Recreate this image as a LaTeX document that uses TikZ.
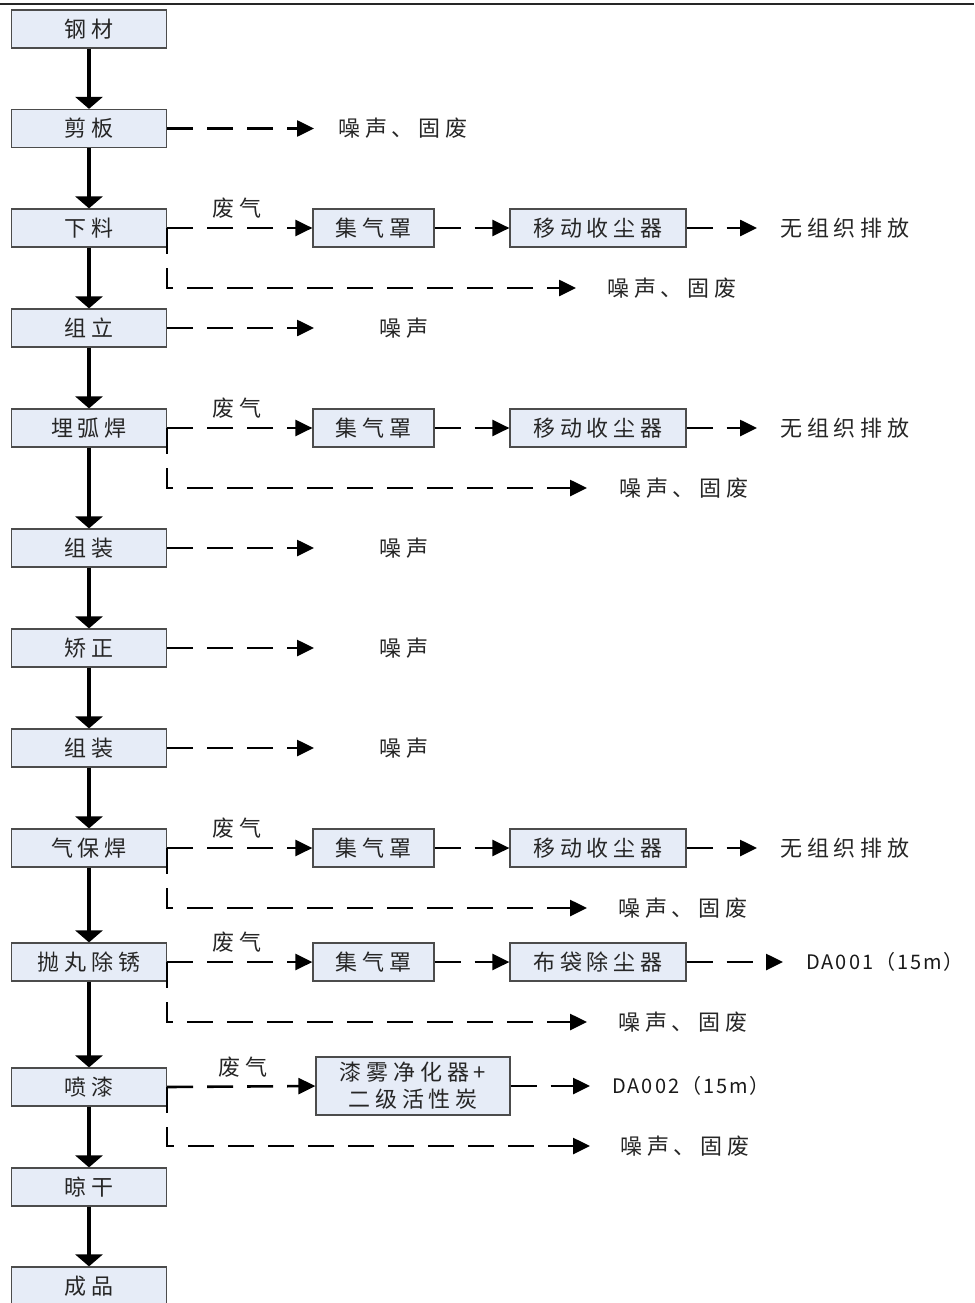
\documentclass[tikz,border=0pt]{standalone}
\usepackage{fontspec}
\usetikzlibrary{arrows.meta}
\newfontfamily\cjk{Noto Sans CJK SC}[LetterSpace=22]
\newfontfamily\latf{Noto Sans CJK SC}[LetterSpace=10]
\definecolor{boxfill}{HTML}{E6ECF7}
\tikzset{
  box/.style={draw=black!70, line width=1.2pt, fill=boxfill, minimum width=155pt, minimum height=38pt, inner sep=0pt, font=\cjk\fontsize{22}{26}\selectfont, text=black!85},
  sbox/.style={box, minimum width=121pt},
  cbox/.style={box, minimum width=176pt},
  lbl/.style={inner sep=0pt, anchor=west, font=\cjk\fontsize{22}{26}\selectfont, text=black!85},
  glbl/.style={inner sep=0pt, font=\cjk\fontsize{22}{26}\selectfont, text=black!85},
  dlbl/.style={inner sep=0pt, anchor=west, font=\latf\fontsize{20}{24}\selectfont, text=black!90},
  flow/.style={line width=3.5pt, -{Triangle[length=12pt,width=27pt]}},
  aux/.style={line width=2.6pt, dash pattern=on 26pt off 14pt, -{Triangle[length=17pt,width=16pt]}},
}
\begin{document}
\begin{tikzpicture}[x=1pt,y=-1pt]
\useasboundingbox (0,0) rectangle (974,1303);
\draw[line width=2pt, black!85] (0,4.5) -- (974,4.5);

% main chain
\node[box] (m1) at (89,29) {钢材};
\node[box] (m2) at (89,128.5) {剪板};
\node[box] (m3) at (89,228) {下料};
\node[box] (m4) at (89,328) {组立};
\node[box] (m5) at (89,428) {埋弧焊};
\node[box] (m6) at (89,548) {组装};
\node[box] (m7) at (89,648) {矫正};
\node[box] (m8) at (89,748) {组装};
\node[box] (m9) at (89,848) {气保焊};
\node[box] (m10) at (89,962) {抛丸除锈};
\node[box] (m11) at (89,1087) {喷漆};
\node[box] (m12) at (89,1187) {晾干};
\node[box] (m13) at (89,1286) {成品};
\foreach \a/\b in {m1/m2,m2/m3,m3/m4,m4/m5,m5/m6,m6/m7,m7/m8,m8/m9,m9/m10,m10/m11,m11/m12,m12/m13}
  \draw[flow] (\a.south) -- (\b.north);

% 剪板
\coordinate (t2) at (314,128.5);
\node[lbl] (n2) at (338,128.5) {噪声、固废};
\draw[aux] (m2.east) -- (t2);

% 下料
\node[sbox] (j3) at (373.5,228) {集气罩};
\node[cbox] (c3) at (598,228) {移动收尘器};
\node[glbl] (g3) at (237,208) {废气};
\coordinate (e3) at (757,228);
\node[lbl] (w3) at (780,228) {无组织排放};
\coordinate (f3) at (576,288);
\node[lbl] (n3) at (607,288) {噪声、固废};
\draw[aux] (m3.east) -- (j3.west);
\draw[aux] (j3.east) -- (c3.west);
\draw[aux] (c3.east) -- (e3);
\draw[aux] (m3.east) |- (f3);

% 组立
\coordinate (t4) at (314,328);
\node[lbl] (n4) at (379,328) {噪声};
\draw[aux] (m4.east) -- (t4);

% 埋弧焊
\node[sbox] (j5) at (373.5,428) {集气罩};
\node[cbox] (c5) at (598,428) {移动收尘器};
\node[glbl] (g5) at (237,408) {废气};
\coordinate (e5) at (757,428);
\node[lbl] (w5) at (780,428) {无组织排放};
\coordinate (f5) at (587,488);
\node[lbl] (n5) at (619,488) {噪声、固废};
\draw[aux] (m5.east) -- (j5.west);
\draw[aux] (j5.east) -- (c5.west);
\draw[aux] (c5.east) -- (e5);
\draw[aux] (m5.east) |- (f5);

% 组装 / 矫正 / 组装
\coordinate (t6) at (314,548);
\node[lbl] (n6) at (379,548) {噪声};
\draw[aux] (m6.east) -- (t6);
\coordinate (t7) at (314,648);
\node[lbl] (n7) at (379,648) {噪声};
\draw[aux] (m7.east) -- (t7);
\coordinate (t8) at (314,748);
\node[lbl] (n8) at (379,748) {噪声};
\draw[aux] (m8.east) -- (t8);

% 气保焊
\node[sbox] (j9) at (373.5,848) {集气罩};
\node[cbox] (c9) at (598,848) {移动收尘器};
\node[glbl] (g9) at (237,828) {废气};
\coordinate (e9) at (757,848);
\node[lbl] (w9) at (780,848) {无组织排放};
\coordinate (f9) at (587,908);
\node[lbl] (n9) at (618,908) {噪声、固废};
\draw[aux] (m9.east) -- (j9.west);
\draw[aux] (j9.east) -- (c9.west);
\draw[aux] (c9.east) -- (e9);
\draw[aux] (m9.east) |- (f9);

% 抛丸除锈
\node[sbox] (j10) at (373.5,962) {集气罩};
\node[cbox] (b10) at (598,962) {布袋除尘器};
\node[glbl] (g10) at (237,942) {废气};
\coordinate (e10) at (783,962);
\node[dlbl] (d10) at (806,962) {DA001（15m）};
\coordinate (f10) at (587,1022);
\node[lbl] (n10) at (618,1022) {噪声、固废};
\draw[aux] (m10.east) -- (j10.west);
\draw[aux] (j10.east) -- (b10.west);
\draw[aux] (b10.east) -- (e10);
\draw[aux] (m10.east) |- (f10);

% 喷漆
\node[box, minimum width=194pt, minimum height=58pt, align=center, font=\cjk\fontsize{22}{27}\selectfont] (p11) at (413,1086) {漆雾净化器+\\二级活性炭};
\node[glbl] (g11) at (243,1067) {废气};
\coordinate (e11) at (590,1086);
\node[dlbl] (d11) at (612,1086) {DA002（15m）};
\coordinate (f11) at (590,1146);
\node[lbl] (n11) at (620,1146) {噪声、固废};
\draw[aux] (m11.east) -- (p11.west);
\draw[aux] (p11.east) -- (e11);
\draw[aux] (m11.east) |- (f11);
\end{tikzpicture}
\end{document}
